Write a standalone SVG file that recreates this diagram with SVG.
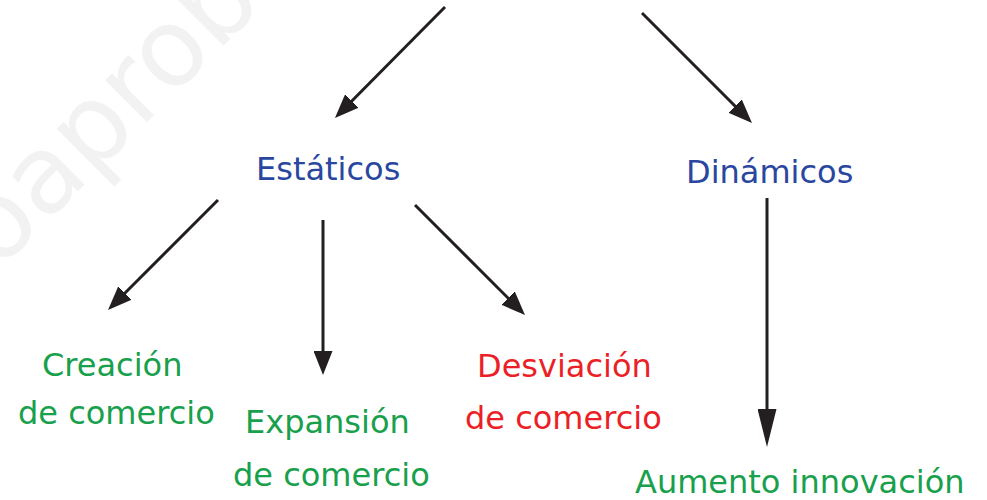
<svg xmlns="http://www.w3.org/2000/svg" width="987" height="500" viewBox="0 0 987 500">
<style>
  .lbl { font-family: "DejaVu Sans", Verdana, sans-serif; font-size: 32px; }
  .blue { fill: #2a47a0; }
  .green { fill: #18a04c; }
  .red { fill: #ec1f27; }
  .wm { font-family: "DejaVu Sans", Verdana, sans-serif; font-size: 108px; fill: #f2f2f2; }
  .conn line { stroke: #231f20; stroke-width: 3; fill: none; }
</style>
<defs>
  <marker id="arr" markerUnits="userSpaceOnUse" markerWidth="24" markerHeight="19" refX="12" refY="9.5" orient="auto">
    <path d="M0,0 L24,9.5 L0,19 Z" fill="#231f20"/>
  </marker>
  <marker id="arrLong" markerUnits="userSpaceOnUse" markerWidth="38" markerHeight="19" refX="26" refY="9.5" orient="auto">
    <path d="M0,0 L38,9.5 L0,19 Z" fill="#231f20"/>
  </marker>
</defs>
<rect width="987" height="500" fill="#ffffff"/>
<text class="wm" transform="translate(-2,271) rotate(-45)">oaprob</text>
<g class="conn" id="connectors">
  <line x1="445" y1="7" x2="343.4" y2="109.5" marker-end="url(#arr)"/>
  <line x1="642" y1="13" x2="743.5" y2="114.5" marker-end="url(#arr)"/>
  <line x1="218" y1="200" x2="116.5" y2="301.5" marker-end="url(#arr)"/>
  <line x1="323" y1="220" x2="323" y2="363" marker-end="url(#arr)"/>
  <line x1="415" y1="205" x2="516.5" y2="306.5" marker-end="url(#arr)"/>
  <line x1="767" y1="198" x2="767" y2="435" marker-end="url(#arrLong)"/>
</g>
<g id="estaticos"><text class="lbl blue" x="256" y="180">Estáticos</text></g>
<g id="dinamicos"><text class="lbl blue" x="686" y="183">Dinámicos</text></g>
<g id="creacion">
  <text class="lbl green" x="42" y="376">Creación</text>
  <text class="lbl green" x="18" y="424">de comercio</text>
</g>
<g id="expansion">
  <text class="lbl green" x="245" y="433">Expansión</text>
  <text class="lbl green" x="233" y="486">de comercio</text>
</g>
<g id="desviacion">
  <text class="lbl red" x="477" y="377">Desviación</text>
  <text class="lbl red" x="465" y="429">de comercio</text>
</g>
<g id="aumento"><text class="lbl green" x="635" y="493">Aumento innovación</text></g>
</svg>
